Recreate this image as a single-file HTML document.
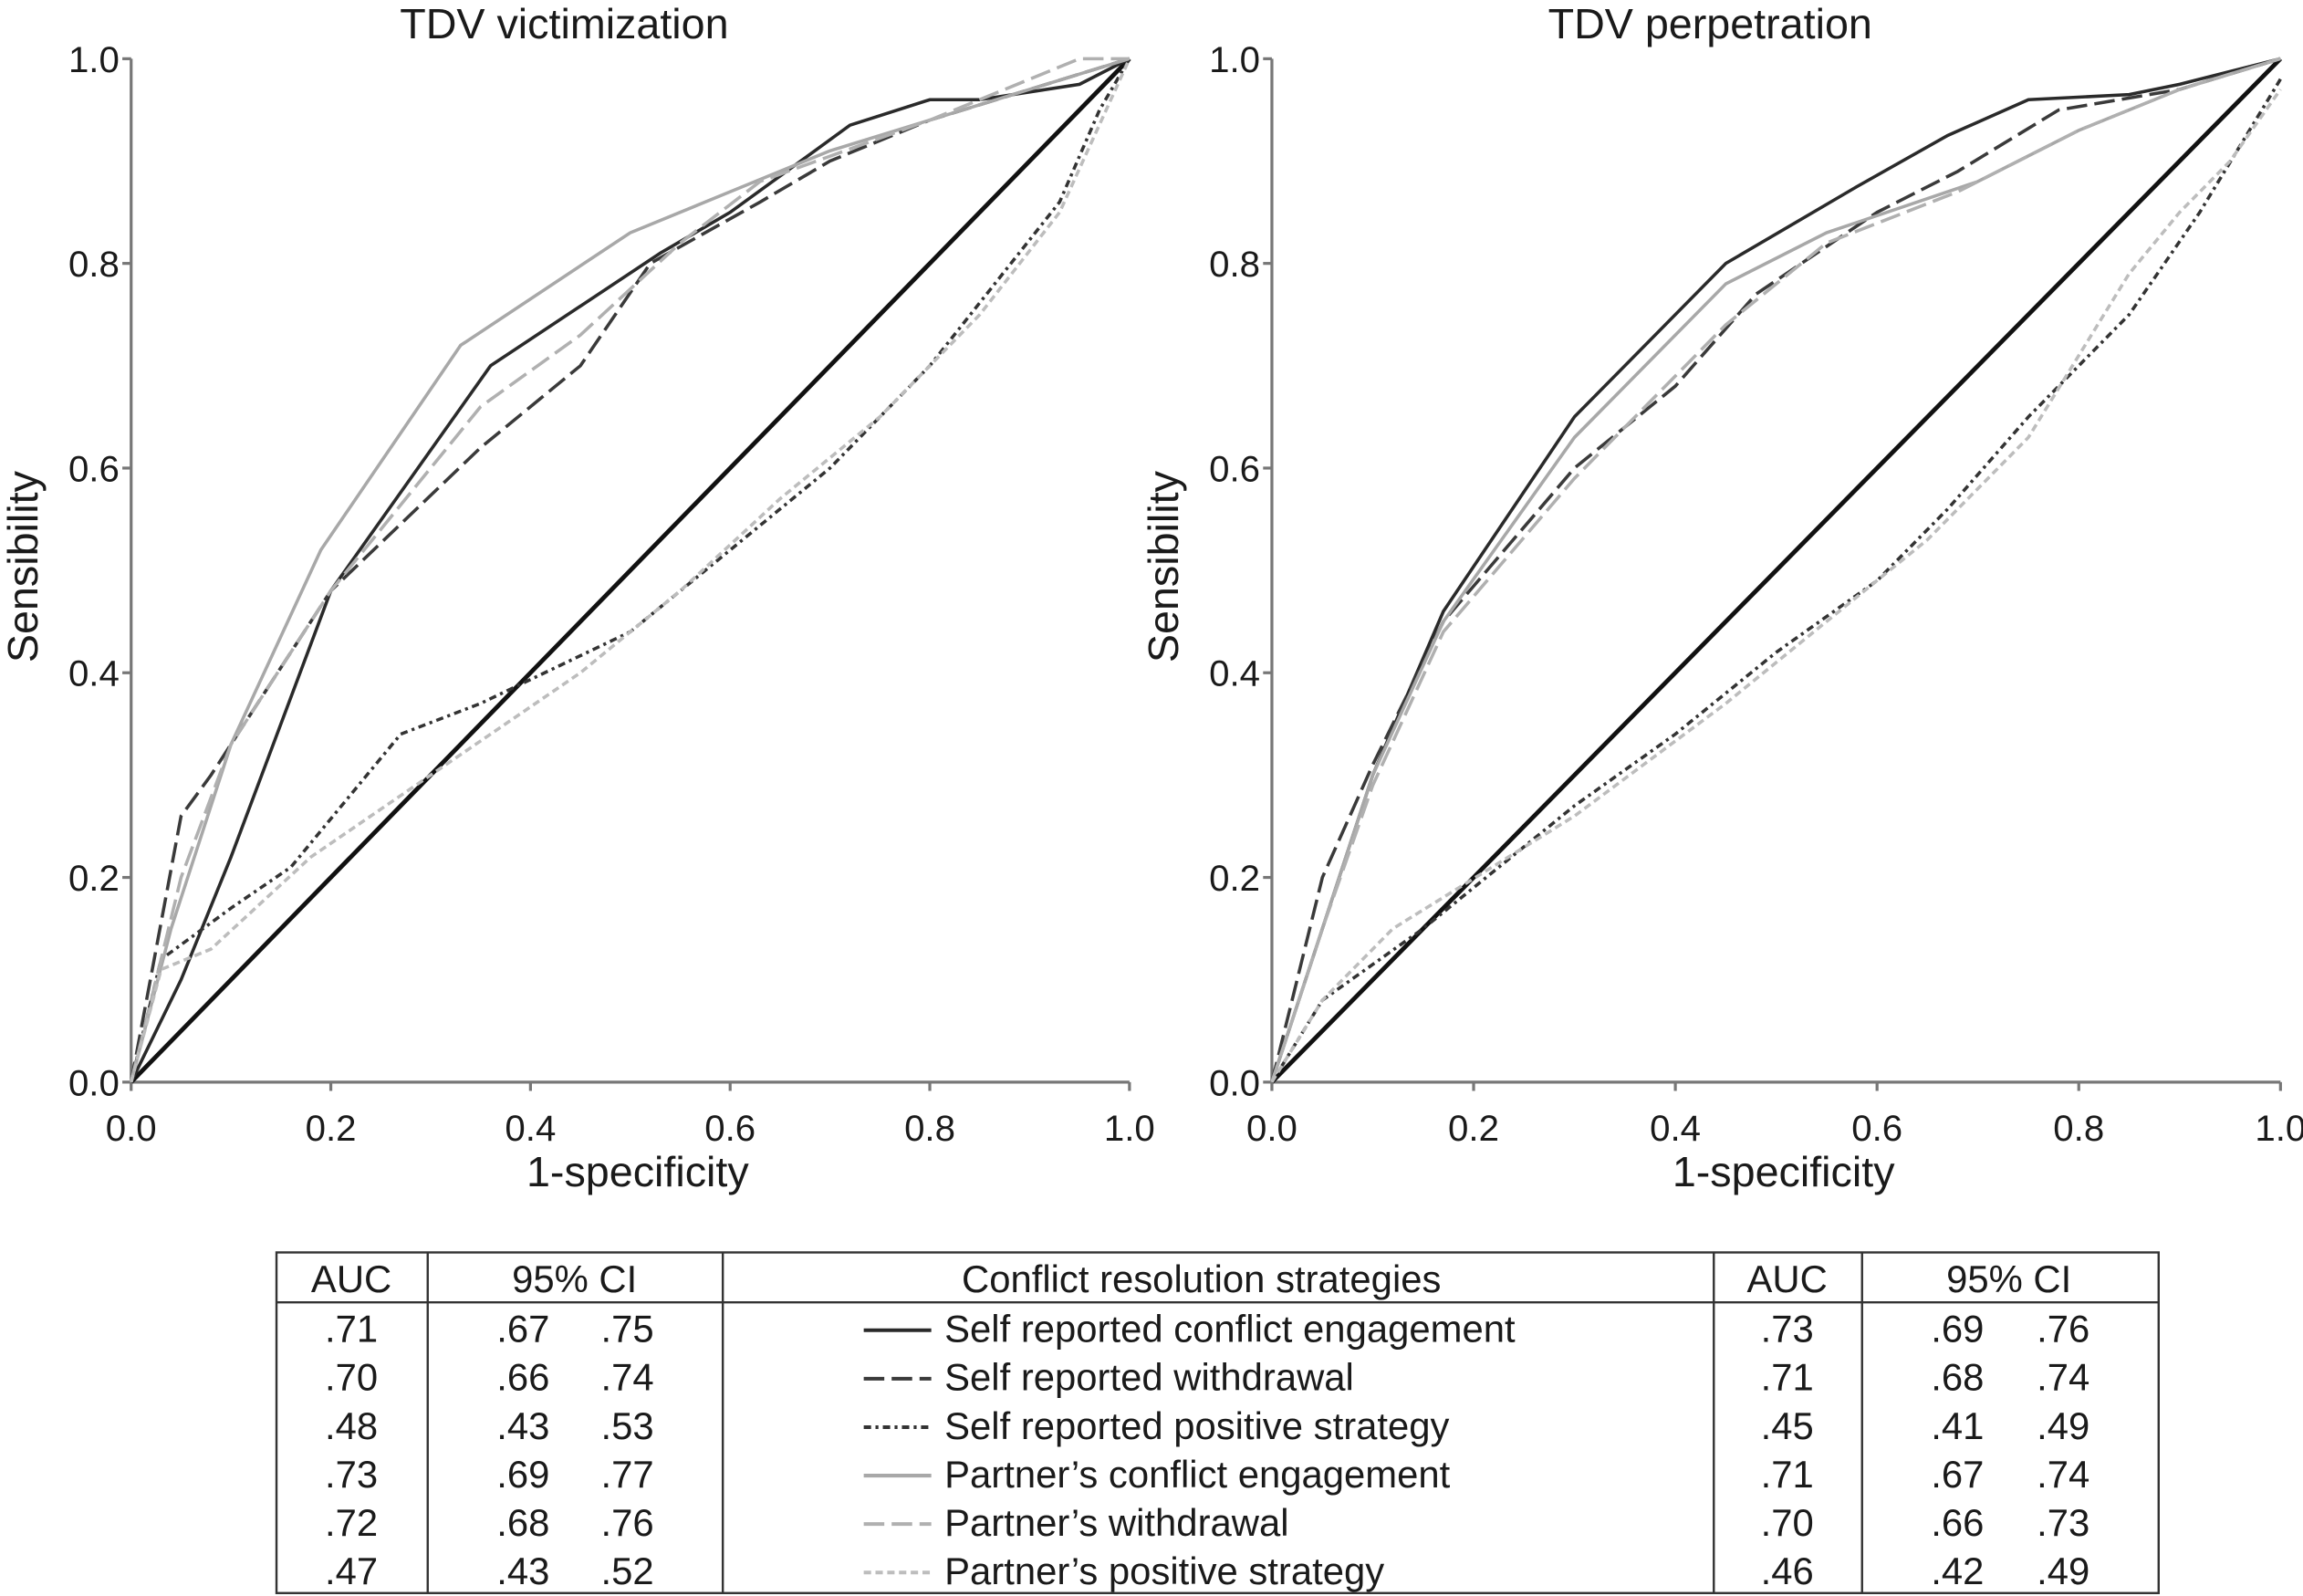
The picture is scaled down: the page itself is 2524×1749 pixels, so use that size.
<!DOCTYPE html>
<html><head><meta charset="utf-8"><style>
html,body{margin:0;padding:0;background:#fff}
svg{display:block}
text{font-family:"Liberation Sans",Arial,sans-serif;fill:#1a1a1a}
</style></head><body>
<svg id="chart" width="2524" height="1749" viewBox="0 0 1568 1087" xmlns="http://www.w3.org/2000/svg">
<g id="panels"></g>
<g id="table"></g>
</svg>
<script>
const ticks = [0, 0.2, 0.4, 0.6, 0.8, 1.0];
const tickLabels = ["0.0","0.2","0.4","0.6","0.8","1.0"];
const panelTitles = ["TDV victimization","TDV perpetration"];
const seriesNames = ["self-engagement","self-withdrawal","self-positive","partner-engagement","partner-withdrawal","partner-positive"];
// victimization
const vicX = [
 [0,0.05,0.1,0.2,0.36,0.53,0.6,0.72,0.8,0.85,0.95,1],
 [0,0.05,0.08,0.2,0.35,0.45,0.52,0.63,0.7,0.8,0.9,1],
 [0,0.03,0.1,0.16,0.27,0.35,0.5,0.6,0.7,0.8,0.93,0.97,1],
 [0,0.04,0.1,0.19,0.33,0.5,0.6,0.7,0.8,0.9,1],
 [0,0.05,0.1,0.2,0.35,0.45,0.55,0.63,0.8,0.95,1],
 [0,0.03,0.08,0.18,0.3,0.45,0.55,0.65,0.75,0.85,0.93,1]];
const vicY = [
 [0,0.1,0.22,0.48,0.7,0.81,0.85,0.935,0.96,0.96,0.975,1],
 [0,0.26,0.3,0.48,0.62,0.7,0.8,0.86,0.9,0.94,0.97,1],
 [0,0.12,0.17,0.21,0.34,0.37,0.44,0.52,0.6,0.7,0.86,0.95,1],
 [0,0.15,0.33,0.52,0.72,0.83,0.87,0.91,0.94,0.97,1],
 [0,0.2,0.33,0.48,0.66,0.73,0.82,0.88,0.94,1,1],
 [0,0.11,0.13,0.22,0.3,0.4,0.48,0.57,0.65,0.75,0.85,1]];
// perpetration
const perX = [
 [0,0.05,0.1,0.17,0.3,0.45,0.58,0.67,0.75,0.85,0.9,1],
 [0,0.05,0.1,0.17,0.3,0.4,0.48,0.6,0.68,0.78,0.9,1],
 [0,0.05,0.15,0.3,0.4,0.5,0.6,0.67,0.75,0.85,0.92,1],
 [0,0.05,0.1,0.17,0.3,0.45,0.55,0.7,0.8,0.9,1],
 [0,0.05,0.1,0.17,0.3,0.45,0.55,0.68,0.8,0.9,1],
 [0,0.05,0.12,0.3,0.45,0.55,0.65,0.75,0.85,0.9,0.95,1]];
const perY = [
 [0,0.15,0.3,0.46,0.65,0.8,0.875,0.925,0.96,0.965,0.975,1],
 [0,0.2,0.31,0.45,0.6,0.68,0.77,0.85,0.89,0.95,0.97,1],
 [0,0.08,0.15,0.27,0.34,0.42,0.49,0.56,0.65,0.75,0.85,0.98],
 [0,0.15,0.3,0.45,0.63,0.78,0.83,0.88,0.93,0.97,1],
 [0,0.15,0.29,0.44,0.59,0.74,0.82,0.87,0.93,0.97,1],
 [0,0.08,0.15,0.26,0.37,0.45,0.53,0.63,0.79,0.85,0.9,0.97]];
const tableRows = [
 [".71",".67",".75","Self reported conflict engagement",".73",".69",".76"],
 [".70",".66",".74","Self reported withdrawal",".71",".68",".74"],
 [".48",".43",".53","Self reported positive strategy",".45",".41",".49"],
 [".73",".69",".77","Partner\u2019s conflict engagement",".71",".67",".74"],
 [".72",".68",".76","Partner\u2019s withdrawal",".70",".66",".73"],
 [".47",".43",".52","Partner\u2019s positive strategy",".46",".42",".49"]];

const styles = [
 {c:"#2a2a2a",d:""},{c:"#3a3a3a",d:"14 5"},{c:"#333",d:"5 3 2 3"},
 {c:"#a8a8a8",d:""},{c:"#b0b0b0",d:"14 5"},{c:"#bdbdbd",d:"5 3"}];
const NS="http://www.w3.org/2000/svg";
function mk(tag,attrs,parent,txt){const e=document.createElementNS(NS,tag);for(const k in attrs)e.setAttribute(k,attrs[k]);if(txt!==undefined)e.textContent=txt;parent.appendChild(e);return e;}
const panels=document.getElementById('panels');
const Y0=737,Y1=40;
const ySc=v=>Y0+(Y1-Y0)*v;
[[89,769,vicX,vicY],[866,1553,perX,perY]].forEach((p,pi)=>{
 const [X0,X1,xs,ys]=p; const xSc=v=>X0+(X1-X0)*v;
 const g=mk('g',{},panels);
 
 
 const t=mk('text',{x:(X0+X1)/2-45,y:26,'font-size':29,'text-anchor':'middle'},g,panelTitles[pi]);
 
 
 const ya=mk('line',{x1:X0,y1:Y1,x2:X0,y2:Y0,stroke:'#777','stroke-width':2},g);
 
 
 const xa=mk('line',{x1:X0,y1:Y0,x2:X1,y2:Y0,stroke:'#777','stroke-width':2},g);
 
 
 ticks.forEach((v,i)=>{
  mk('line',{x1:X0-6,y1:ySc(v),x2:X0,y2:ySc(v),stroke:'#777','stroke-width':2},g);
  const yl=mk('text',{x:X0-8,y:ySc(v)+9,'font-size':25,'text-anchor':'end'},g,tickLabels[i]);
  
  
  mk('line',{x1:xSc(v),y1:Y0,x2:xSc(v),y2:Y0+6,stroke:'#777','stroke-width':2},g);
  const xl=mk('text',{x:xSc(v),y:777,'font-size':25,'text-anchor':'middle'},g,tickLabels[i]);
  
  
 });
 const yt=mk('text',{x:0,y:0,'font-size':29,'text-anchor':'middle',transform:`translate(${X0-64},386) rotate(-90)`},g,'Sensibility');
 
 
 const xt=mk('text',{x:(X0+X1)/2+5,y:808,'font-size':29,'text-anchor':'middle'},g,'1-specificity');
 
 
 const dg=mk('line',{x1:xSc(0),y1:ySc(0),x2:xSc(1),y2:ySc(1),stroke:'#111','stroke-width':3},g);
 
 
 xs.forEach((xa2,si)=>{
  const pts=xa2.map((x,j)=>xSc(x).toFixed(1)+','+ySc(ys[si][j]).toFixed(1)).join(' ');
  const pl=mk('polyline',{points:pts,fill:'none',stroke:styles[si].c,'stroke-width':2.2,'stroke-dasharray':styles[si].d},g);
  
  
 });
});
// table
const tb=document.getElementById('table');
const TX=[188,291,492,1167,1268,1470],TY0=853,TH=887,TB=1085;
mk('rect',{x:188,y:TY0,width:1282,height:TB-TY0,fill:'none',stroke:'#333','stroke-width':1.5},tb);
mk('line',{x1:188,y1:TH,x2:1470,y2:TH,stroke:'#333','stroke-width':1.5},tb);
TX.slice(1,5).forEach(x=>mk('line',{x1:x,y1:TY0,x2:x,y2:TB,stroke:'#333','stroke-width':1.5},tb));
const hdr=[["AUC",239],["95% CI",391],["Conflict resolution strategies",818],["AUC",1217],["95% CI",1368]];
hdr.forEach(h=>{const e=mk('text',{x:h[1],y:880,'font-size':26,'text-anchor':'middle'},tb,h[0]);
 
 });
tableRows.forEach((r,i)=>{
 const y=914+i*33;
 const row=mk('g',{},tb);
 
 
 const cells=[[r[0],239,'middle'],[r[1],356,'middle'],[r[2],427,'middle'],[r[3],643,'start'],[r[4],1217,'middle'],[r[5],1333,'middle'],[r[6],1405,'middle']];
 cells.forEach(c=>mk('text',{x:c[1],y:y,'font-size':26,'text-anchor':c[2]},row,c[0]));
 const s=styles[i];
 const ln=mk('line',{x1:588,y1:y-8,x2:634,y2:y-8,stroke:s.c,'stroke-width':2.5,'stroke-dasharray':s.d},row);
 
 
});
</script>
</body></html>
